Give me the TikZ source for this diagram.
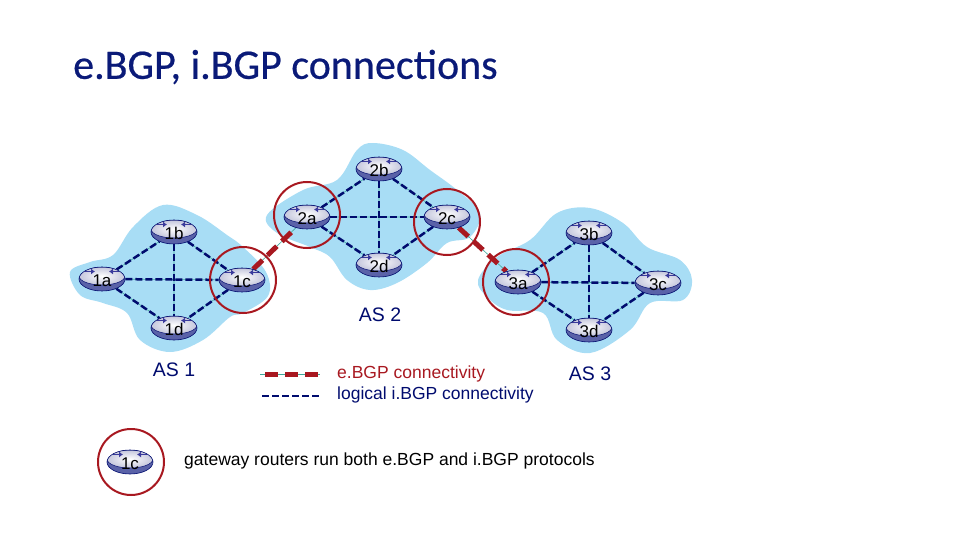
\documentclass[tikz,border=0pt]{standalone}
\usepackage{fontspec}
\setmainfont{Liberation Sans}
\newfontfamily\titlefont[FakeBold=0.5]{Carlito}
\usetikzlibrary{shapes.geometric,backgrounds,arrows.meta}
\definecolor{asblue}{HTML}{A8DDF5}
\definecolor{navyline}{HTML}{000B6E}
\definecolor{gatered}{HTML}{A81820}
\definecolor{tealline}{HTML}{3FA89A}
\definecolor{titleblue}{HTML}{0A1A78}
\definecolor{discbody}{HTML}{5A62A8}
\definecolor{disctop}{HTML}{C4C6DC}
\definecolor{discarrow}{HTML}{3A3A9C}
\begin{document}
\begin{tikzpicture}[
    x=1pt, y=-1pt,
    router/.style={ellipse, draw=navyline, line width=0.6pt,
        minimum width=46pt, minimum height=24pt, inner sep=0pt, text height=15pt, text depth=0pt,
        font=\fontsize{17}{17}\selectfont,
        path picture={
            \fill[discbody] (path picture bounding box.south west) rectangle (path picture bounding box.north east);
            \shade[draw=navyline, line width=0.5pt, inner color=white, outer color=disctop] ([yshift=3pt]path picture bounding box.center) ellipse [x radius=23pt, y radius=9pt];
            \draw[discarrow, line width=1.8pt, -{Latex[length=4pt,width=6pt]}] ([xshift=-17pt,yshift=7.5pt]path picture bounding box.center) -- ++(10,0);
            \draw[discarrow, line width=1.8pt, -{Latex[length=4pt,width=6pt]}] ([xshift=17pt,yshift=7.5pt]path picture bounding box.center) -- ++(-10,0);
        }},
    blob/.style={fill=asblue, draw=none},
    ibgp/.style={navyline, line width=2.5pt, dash pattern=on 7pt off 3pt},
    ibgpthin/.style={tealline, line width=0.6pt},
    ebgp/.style={gatered, line width=5pt, dash pattern=on 13pt off 7pt},
    gateway/.style={circle, draw=gatered, line width=2pt, minimum size=66pt, inner sep=0pt},
    aslabel/.style={text=navyline, font=\fontsize{19.5}{19.5}\selectfont},
    legendtext/.style={anchor=west, inner sep=0pt, font=\fontsize{17.5}{17.5}\selectfont}
]
    \useasboundingbox (0,0) rectangle (960,540);

    % Title
    \node[anchor=west, inner sep=0pt, text=titleblue, font=\titlefont\fontsize{42}{42}\selectfont] (title) at (73,67) {e.BGP, i.BGP connections};

    % AS 1 routers
    \node[router] (r1a) at (102,279) {1a};
    \node[router] (r1b) at (174,232) {1b};
    \node[router] (r1c) at (242,280) {1c};
    \node[router] (r1d) at (174,328) {1d};

    % AS 2 routers
    \node[router] (r2a) at (307,217) {2a};
    \node[router] (r2b) at (379,169) {2b};
    \node[router] (r2c) at (447,217) {2c};
    \node[router] (r2d) at (379,265) {2d};

    % AS 3 routers
    \node[router] (r3a) at (518,282) {3a};
    \node[router] (r3b) at (589,233) {3b};
    \node[router] (r3c) at (658,283) {3c};
    \node[router] (r3d) at (589,330) {3d};

    % Legend router
    \node[router] (r1cl) at (130,462) {1c};

    % Gateway circles
    \node[gateway] (g1c) at (243,280) {};
    \node[gateway] (g2a) at (307,215) {};
    \node[gateway] (g2c) at (447,222) {};
    \node[gateway] (g3a) at (516,282) {};
    \node[gateway] (g1cl) at (131,462) {};

    % Labels
    \node[aslabel] (as1) at (174,370) {AS 1};
    \node[aslabel] (as2) at (380,315) {AS 2};
    \node[aslabel] (as3) at (590,374) {AS 3};
    \node[legendtext, text=gatered] (lege) at (337,374) {e.BGP connectivity};
    \node[legendtext, text=navyline] (legi) at (337,395) {logical i.BGP connectivity};
    \node[legendtext] (gwtext) at (184,461) {gateway routers run both e.BGP and i.BGP protocols};

    % Legend line ends
    \coordinate (le1) at (260,374);
    \coordinate (le2) at (320,374);
    \coordinate (li1) at (262,396);
    \coordinate (li2) at (320,396);

    \begin{scope}[on background layer]
        % AS areas
        \fill[blob] plot[smooth cycle, tension=0.6] coordinates {(70,272) (90,262) (113,255) (133,227) (163,205) (197,215) (227,235) (243,247) (266,272) (268,296) (243,313) (230,317) (203,340) (170,352) (140,340) (127,313) (103,303) (80,295)};
        \fill[blob] plot[smooth cycle, tension=0.6] coordinates {(267,215) (303,190) (337,180) (357,150) (373,143) (403,150) (430,170) (457,190) (480,213) (470,237) (447,243) (427,263) (397,283) (370,290) (347,280) (330,257) (310,247) (277,233)};
        \fill[blob] plot[smooth cycle, tension=0.6] coordinates {(478,280) (497,257) (530,240) (557,213) (590,208) (623,223) (647,247) (680,260) (692,280) (683,300) (650,303) (630,330) (590,353) (557,340) (543,313) (507,310) (487,297)};

        % AS 1 links
        \draw[ibgpthin] (r1a) -- (r1b) (r1a) -- (r1c) (r1a) -- (r1d) (r1b) -- (r1c) (r1b) -- (r1d) (r1c) -- (r1d);
        \draw[ibgp] (r1a) -- (r1b);
        \draw[ibgp] (r1a) -- (r1c);
        \draw[ibgp] (r1a) -- (r1d);
        \draw[ibgp] (r1b) -- (r1c);
        \draw[ibgp] (r1b) -- (r1d);
        \draw[ibgp] (r1c) -- (r1d);

        % AS 2 links
        \draw[ibgpthin] (r2a) -- (r2b) (r2a) -- (r2c) (r2a) -- (r2d) (r2b) -- (r2c) (r2b) -- (r2d) (r2c) -- (r2d);
        \draw[ibgp] (r2a) -- (r2b);
        \draw[ibgp] (r2a) -- (r2c);
        \draw[ibgp] (r2a) -- (r2d);
        \draw[ibgp] (r2b) -- (r2c);
        \draw[ibgp] (r2b) -- (r2d);
        \draw[ibgp] (r2c) -- (r2d);

        % AS 3 links
        \draw[ibgpthin] (r3a) -- (r3b) (r3a) -- (r3c) (r3a) -- (r3d) (r3b) -- (r3c) (r3b) -- (r3d) (r3c) -- (r3d);
        \draw[ibgp] (r3a) -- (r3b);
        \draw[ibgp] (r3a) -- (r3c);
        \draw[ibgp] (r3a) -- (r3d);
        \draw[ibgp] (r3b) -- (r3c);
        \draw[ibgp] (r3b) -- (r3d);
        \draw[ibgp] (r3c) -- (r3d);

        % e.BGP links
        \draw[ibgpthin] (r1c) -- (r2a);
        \draw[ebgp] (r1c) -- (r2a);
        \draw[ibgpthin] (r2c) -- (r3a);
        \draw[ebgp] (r2c) -- (r3a);

        % Legend lines
        \draw[ibgpthin] (le1) -- (le2);
        \draw[ebgp, dash phase=15pt] (le1) -- (le2);
        \draw[ibgp] (li1) -- (li2);
    \end{scope}
\end{tikzpicture}
\end{document}
